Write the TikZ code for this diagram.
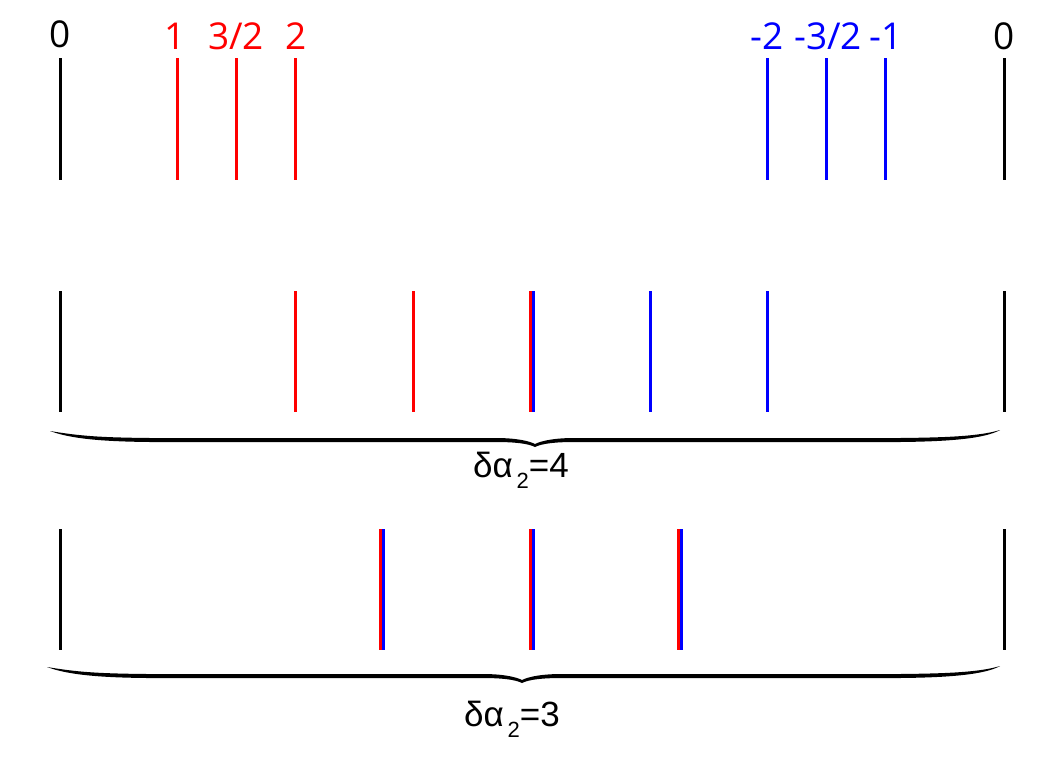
\documentclass[tikz,border=0pt]{standalone}
\usepackage{fontspec}
\setmainfont{Liberation Sans}
\newfontfamily\topfont{Open Sans}
\definecolor{myred}{RGB}{255,0,0}
\definecolor{myblue}{RGB}{0,0,255}
\tikzset{
  tick/.style={line width=3pt},
  rtick/.style={tick,draw=myred},
  btick/.style={tick,draw=myblue},
  ktick/.style={tick,draw=black},
  toplab/.style={font=\topfont\fontsize{37}{44}\selectfont,inner sep=0pt,anchor=center},
  botlab/.style={font=\fontsize{35}{42}\selectfont,inner sep=0pt,anchor=center},
}
\newcommand{\mybrace}[4]{% x1, x2, xm, y
  \fill[black] (#1,#4) .. controls (#1+30,#4+5) and (#1+50,#4+6.5) .. (#1+100,#4+7)
    -- (#3-40,#4+7) .. controls (#3-20,#4+7) and (#3-7,#4+9.5) .. (#3,#4+13)
    .. controls (#3+7,#4+9.5) and (#3+20,#4+7) .. (#3+40,#4+7)
    -- (#2-100,#4+7) .. controls (#2-50,#4+6.5) and (#2-20,#4+5) .. (#2,#4-1)
    .. controls (#2-15,#4+7.5) and (#2-50,#4+10.5) .. (#2-100,#4+11)
    -- (#3+40,#4+11) .. controls (#3+20,#4+11) and (#3+7,#4+12.5) .. (#3,#4+16)
    .. controls (#3-7,#4+12.5) and (#3-20,#4+11) .. (#3-40,#4+11)
    -- (#1+100,#4+11) .. controls (#1+50,#4+10.5) and (#1+20,#4+7.5) .. (#1,#4) -- cycle;
}
\begin{document}
\begin{tikzpicture}[x=1pt,y=-1pt]
\useasboundingbox (0,0) rectangle (1064,768);
% Row 1
\foreach \x in {60,1004} \draw[ktick] (\x,58) -- (\x,180);
\foreach \x in {177,236,295} \draw[rtick] (\x,58) -- (\x,180);
\foreach \x in {767,826,885} \draw[btick] (\x,58) -- (\x,180);
\node[toplab] (l0a) at (60,34) {0};
\node[toplab,text=myred] (l1) at (175,36) {1};
\node[toplab,text=myred] (l32) at (236,36) {3/2};
\node[toplab,text=myred] (l2) at (296,36) {2};
\node[toplab,text=myblue] (lm2) at (767,36) {-2};
\node[toplab,text=myblue] (lm32) at (828,36) {-3/2};
\node[toplab,text=myblue] (lm1) at (886,36) {-1};
\node[toplab] (l0b) at (1004,36) {0};
% Row 2
\foreach \x in {60,1004} \draw[ktick] (\x,291) -- (\x,412);
\foreach \x in {295,413,530} \draw[rtick] (\x,291) -- (\x,412);
\foreach \x in {533,650,767} \draw[btick] (\x,291) -- (\x,412);
\mybrace{50}{1000}{535}{431}
\node[botlab] (d4) at (521,470) {δα\raisebox{-0.6ex}{\fontsize{22}{22}\selectfont \,2}=4};
% Row 3
\foreach \x in {60,1004} \draw[ktick] (\x,529) -- (\x,650);
\foreach \x in {380,530,678} \draw[rtick] (\x,529) -- (\x,650);
\foreach \x in {383,533,681} \draw[btick] (\x,529) -- (\x,650);
\mybrace{47}{1000}{522}{667}
\node[botlab] (d3) at (512,719) {δα\raisebox{-0.6ex}{\fontsize{22}{22}\selectfont \,2}=3};
\end{tikzpicture}
\end{document}
